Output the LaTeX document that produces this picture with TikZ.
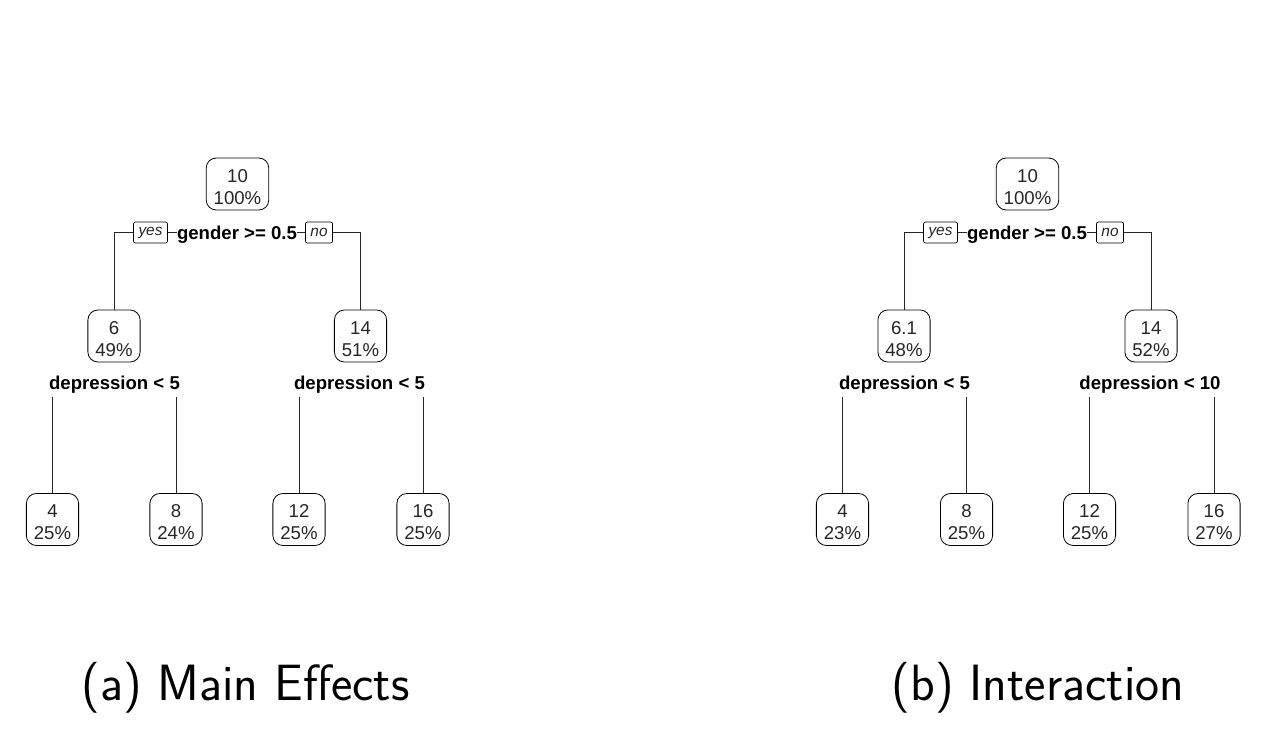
\documentclass[tikz,border=0pt]{standalone}
\usepackage{fontspec}
\newfontfamily\treefam{Liberation Sans}
\newcommand\treetext{\treefam\fontsize{18.6}{22}\selectfont}
\newcommand\yntext{\treefam\fontsize{15.4}{18}\selectfont\itshape}
\newcommand\captext{\sffamily\fontsize{51}{60}\selectfont}
\newcommand\topstrut{\rule{0pt}{18.5pt}}
\begin{document}
\begin{tikzpicture}[x=1pt,y=-1pt,
  tnode/.style={draw, rounded corners=10pt, font=\treetext, align=center,
    minimum height=52pt, inner xsep=7.5pt, inner ysep=2pt, line width=0.8pt, text=black!85},
  splitlbl/.style={font=\treetext\bfseries, inner sep=0pt, minimum height=24pt},
  ynbox/.style={draw, font=\yntext, inner xsep=5pt, inner ysep=0pt, minimum height=21pt,
    rounded corners=2pt, line width=0.7pt, text=black!85},
  edge/.style={draw, line width=1pt, black!85},
  captionlbl/.style={font=\captext, anchor=base}]
\useasboundingbox (0,0) rectangle (1265,747);

% ---------- (a) Main Effects ----------
\node[tnode] (ar) at (237.5,184) {\topstrut 10\\100\%};
\node[ynbox] (ayes) at (150.5,232.5) {yes};
\node[splitlbl] (as) at (237,234.5) {gender >= 0.5};
\node[ynbox] (ano) at (319,232.5) {no};
\node[tnode] (a2) at (114,336) {\topstrut 6\\49\%};
\node[tnode] (a3) at (360.5,336) {\topstrut 14\\51\%};
\node[splitlbl] (ad2) at (114.5,385) {depression < 5};
\node[splitlbl] (ad3) at (359.5,385) {depression < 5};
\node[tnode] (a4) at (52.5,519.5) {\topstrut 4\\25\%};
\node[tnode] (a5) at (176,519.5) {\topstrut 8\\24\%};
\node[tnode] (a6) at (299,519.5) {\topstrut 12\\25\%};
\node[tnode] (a7) at (423,519.5) {\topstrut 16\\25\%};
\draw[edge] (ayes.west) -| (a2.north);
\draw[edge] (ayes.east) -- (ayes.east -| as.west);
\draw[edge] (ano.west -| as.east) -- (ano.west);
\draw[edge] (ano.east) -| (a3.north);
\draw[edge] (ad2.south -| a4.north) -- (a4.north);
\draw[edge] (ad2.south -| a5.north) -- (a5.north);
\draw[edge] (ad3.south -| a6.north) -- (a6.north);
\draw[edge] (ad3.south -| a7.north) -- (a7.north);
\node[captionlbl] (capa) at (245.5,700) {(a) Main Effects};

% ---------- (b) Interaction ----------
\node[tnode] (br) at (1027.5,184) {\topstrut 10\\100\%};
\node[ynbox] (byes) at (940.5,232.5) {yes};
\node[splitlbl] (bs) at (1027,234.5) {gender >= 0.5};
\node[ynbox] (bno) at (1110,232.5) {no};
\node[tnode] (b2) at (904,336) {\topstrut 6.1\\48\%};
\node[tnode] (b3) at (1151,336) {\topstrut 14\\52\%};
\node[splitlbl] (bd2) at (904.5,385) {depression < 5};
\node[splitlbl] (bd3) at (1150,385) {depression < 10};
\node[tnode] (b4) at (842.5,519.5) {\topstrut 4\\23\%};
\node[tnode] (b5) at (966.5,519.5) {\topstrut 8\\25\%};
\node[tnode] (b6) at (1089.5,519.5) {\topstrut 12\\25\%};
\node[tnode] (b7) at (1214,519.5) {\topstrut 16\\27\%};
\draw[edge] (byes.west) -| (b2.north);
\draw[edge] (byes.east) -- (byes.east -| bs.west);
\draw[edge] (bno.west -| bs.east) -- (bno.west);
\draw[edge] (bno.east) -| (b3.north);
\draw[edge] (bd2.south -| b4.north) -- (b4.north);
\draw[edge] (bd2.south -| b5.north) -- (b5.north);
\draw[edge] (bd3.south -| b6.north) -- (b6.north);
\draw[edge] (bd3.south -| b7.north) -- (b7.north);
\node[captionlbl] (capb) at (1038,700) {(b) Interaction};
\end{tikzpicture}
\end{document}
